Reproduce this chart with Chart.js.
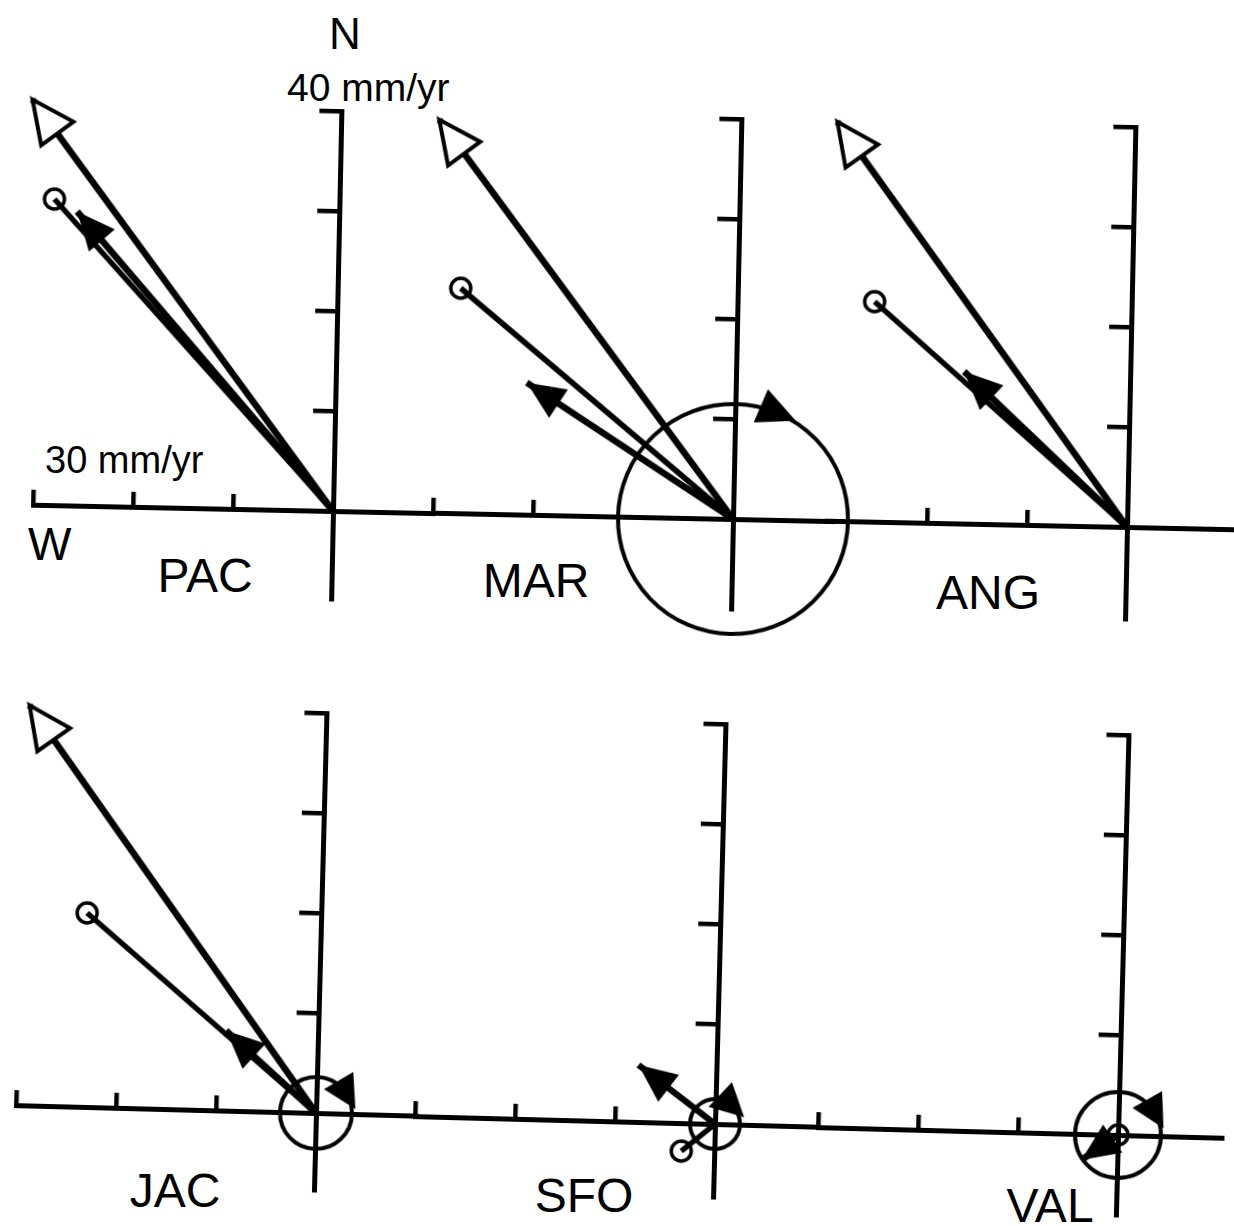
<!DOCTYPE html>
<html>
<head>
<meta charset="utf-8">
<script src="https://cdn.jsdelivr.net/npm/chart.js@4.4.0/dist/chart.umd.min.js"></script>
<style>
  body { margin: 0; background: #fff; width: 1234px; height: 1226px; overflow: hidden; position: relative;
         font-family: "Liberation Sans", Arimo, Arial, Helvetica, sans-serif; }
  canvas.panel { position: absolute; }
  .lbl { position: absolute; color: #000; white-space: nowrap; line-height: 1; }
</style>
</head>
<body>
<div class="lbl" style="left:329px; top:12px; font-size:44px;">N</div>
<div class="lbl" style="left:287px; top:68px; font-size:39px;">40 mm/yr</div>
<div class="lbl" style="left:45px; top:441px; font-size:38px;">30 mm/yr</div>
<div class="lbl" style="left:28px; top:521px; font-size:46px;">W</div>
<div id="labels"></div>

<script>
// Station velocities, east / north components in mm/yr (west is negative)
const stations = ["PAC", "MAR", "ANG", "JAC", "SFO", "VAL"];
const openArrowE = [-30.9, -30.2, -29.8, -29.7, null, null];
const openArrowN = [40.5, 39.3, 39.9, 40.0, null, null];
const circleEndE = [-28.5, -27.7, -25.7, -23.4, -3.3, 0.0];
const circleEndN = [30.6, 22.5, 22.0, 19.4, -2.8, 0.0];
const filledArrowE = [-26.2, -20.9, -16.6, -9.2, -7.8, -3.6];
const filledArrowN = [29.4, 13.2, 15.2, 8.0, 5.7, -2.6];
// error circle radius (mm/yr) and where its clockwise arrow sits (deg from N)
const errorRadius = [0, 11.5, 0, 3.6, 2.5, 4.3];
const spinAngle = [null, 22, null, 58, 42, 59];

// axis ticks (mm/yr)
const eastTicks = [[-30, -20, -10], [-30, -20], [-20, -10], [-30, -20, -10], [-30, -20, -10], [-30, -20, -10]];
const northTicks = [10, 20, 30, 40];
const eastMin = -30;
const eastMax = [10, 10, 10.7, 10, 10, 10.4];
const northMax = 40;
const northMin = [-8.8, -9, -9.2, -7.7, -7.3, -8];

// layout
const PX = 10;       // pixels per mm/yr
const PAD = 40;
const panelRot = [1.2, 1.2, 1.2, 1.5, 1.5, 1.5];   // scan tilt, degrees
const panelOrigins = [[333, 511], [733, 519], [1127, 527], [316, 1113], [715, 1124], [1118, 1135]];
const labelPos = [[205, 575], [536, 580], [988, 592], [175, 1190], [584, 1195], [1050, 1205]];

function head(ctx, tx, ty, dx, dy, len, half, filled) {
  const bx = tx - dx * len, by = ty - dy * len;
  const px = -dy * half, py = dx * half;
  ctx.beginPath();
  ctx.moveTo(tx, ty);
  ctx.lineTo(bx + px, by + py);
  ctx.lineTo(bx - px, by - py);
  ctx.closePath();
  if (filled) {
    ctx.fillStyle = "#000";
    ctx.fill();
  } else {
    ctx.fillStyle = "#fff";
    ctx.fill();
    ctx.lineWidth = 4;
    ctx.stroke();
  }
}

const vectorPlugin = {
  id: "vectors",
  afterDatasetsDraw(chart, args, opts) {
    const i = opts.station;
    const { ctx } = chart;
    const xs = chart.scales.x, ys = chart.scales.y;
    const ox = xs.getPixelForValue(0), oy = ys.getPixelForValue(0);
    const unit = xs.getPixelForValue(1) - ox;
    ctx.save();
    ctx.strokeStyle = "#000";
    ctx.lineJoin = "miter";

    // error circle with its rotation arrow
    if (errorRadius[i] > 0) {
      const r = errorRadius[i] * unit;
      ctx.lineWidth = 4;
      ctx.beginPath();
      ctx.arc(ox, oy, r, 0, 2 * Math.PI);
      ctx.stroke();
      if (spinAngle[i] != null) {
        const a = spinAngle[i] * Math.PI / 180;
        const cx = ox + r * Math.sin(a), cy = oy - r * Math.cos(a);
        const dx = Math.cos(a), dy = Math.sin(a);
        const len = r > 60 ? 38 : 33, half = r > 60 ? 18 : 17;
        head(ctx, cx + dx * len / 2, cy + dy * len / 2, dx, dy, len, half, true);
      }
    }

    // open arrow head
    if (openArrowE[i] != null) {
      const tx = xs.getPixelForValue(openArrowE[i]), ty = ys.getPixelForValue(openArrowN[i]);
      const d = Math.hypot(tx - ox, ty - oy);
      head(ctx, tx, ty, (tx - ox) / d, (ty - oy) / d, 42, 20, false);
    }

    // filled arrow head
    if (filledArrowE[i] != null) {
      const tx = xs.getPixelForValue(filledArrowE[i]), ty = ys.getPixelForValue(filledArrowN[i]);
      const d = Math.hypot(tx - ox, ty - oy);
      head(ctx, tx, ty, (tx - ox) / d, (ty - oy) / d, 38, 17, true);
    }

    // small circle at the end of the thin vector
    if (circleEndE[i] != null) {
      const cx = xs.getPixelForValue(circleEndE[i]), cy = ys.getPixelForValue(circleEndN[i]);
      ctx.lineWidth = 3.5;
      ctx.beginPath();
      ctx.arc(cx, cy, 10, 0, 2 * Math.PI);
      ctx.stroke();
    }
    ctx.restore();
  }
};

function vectorLine(e, n, width) {
  return {
    data: [{ x: 0, y: 0 }, { x: e, y: n }],
    showLine: true,
    borderColor: "#000",
    borderWidth: width,
    pointRadius: 0,
    clip: false
  };
}

stations.forEach((name, i) => {
  const areaW = (eastMax[i] - eastMin) * PX;
  const areaH = (northMax - northMin[i]) * PX;
  const canvas = document.createElement("canvas");
  canvas.className = "panel";
  canvas.width = areaW + 2 * PAD;
  canvas.height = areaH + 2 * PAD;
  const ox = PAD + (0 - eastMin) * PX;
  const oy = PAD + northMax * PX;
  canvas.style.left = (panelOrigins[i][0] - ox) + "px";
  canvas.style.top = (panelOrigins[i][1] - oy) + "px";
  canvas.style.transformOrigin = ox + "px " + oy + "px";
  canvas.style.transform = "rotate(" + panelRot[i] + "deg)";
  document.body.appendChild(canvas);

  const datasets = [];
  if (openArrowE[i] != null) datasets.push(vectorLine(openArrowE[i], openArrowN[i], 6.5));
  if (circleEndE[i] != null) datasets.push(vectorLine(circleEndE[i], circleEndN[i], 5.5));
  if (filledArrowE[i] != null) datasets.push(vectorLine(filledArrowE[i], filledArrowN[i], 6.5));

  new Chart(canvas, {
    type: "scatter",
    data: { datasets },
    options: {
      responsive: false,
      animation: false,
      devicePixelRatio: 1,
      events: [],
      layout: { padding: PAD },
      plugins: {
        legend: { display: false },
        tooltip: { enabled: false },
        vectors: { station: i }
      },
      scales: {
        x: {
          type: "linear",
          min: eastMin,
          max: eastMax[i],
          position: { y: 0 },
          afterBuildTicks: axis => { axis.ticks = eastTicks[i].map(v => ({ value: v })); },
          grid: { drawOnChartArea: false, drawTicks: true, tickLength: -18, lineWidth: 4.5, color: "#000" },
          border: { display: true, width: 5, color: "#000" },
          ticks: { display: false, autoSkip: false }
        },
        y: {
          type: "linear",
          min: northMin[i],
          max: northMax,
          position: { x: 0 },
          afterBuildTicks: axis => { axis.ticks = northTicks.map(v => ({ value: v })); },
          grid: { drawOnChartArea: false, drawTicks: true, tickLength: 20, lineWidth: 4.5, color: "#000" },
          border: { display: true, width: 5, color: "#000" },
          ticks: { display: false, autoSkip: false }
        }
      }
    },
    plugins: [vectorPlugin]
  });

  const lbl = document.createElement("div");
  lbl.className = "lbl";
  lbl.textContent = name;
  lbl.style.fontSize = "48px";
  lbl.style.left = labelPos[i][0] + "px";
  lbl.style.top = (labelPos[i][1] - 23) + "px";
  lbl.style.transform = "translateX(-50%)";
  document.getElementById("labels").appendChild(lbl);
});
</script>
</body>
</html>
